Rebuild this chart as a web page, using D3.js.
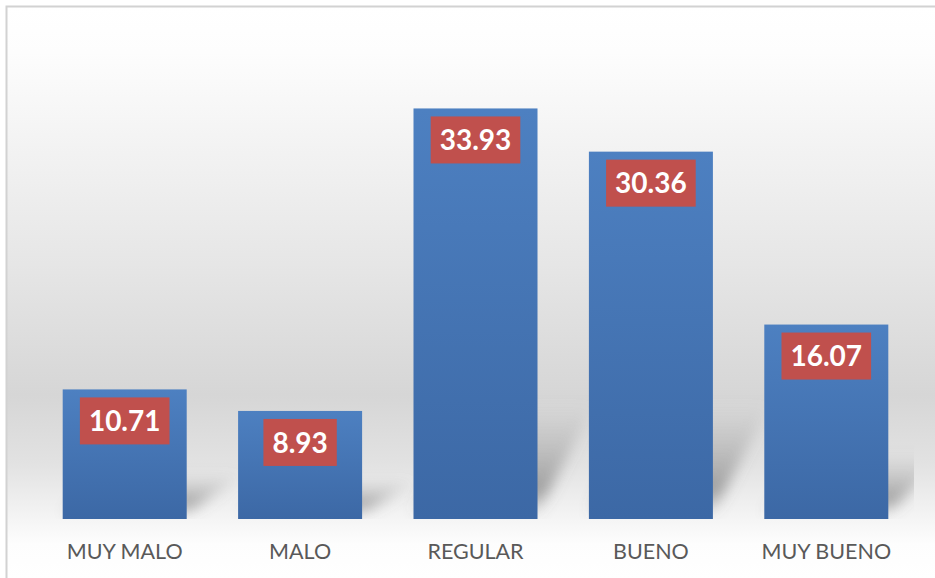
<!DOCTYPE html>
<html>
<head>
<meta charset="utf-8">
<script src="https://cdn.jsdelivr.net/npm/d3@7"></script>
<style>
  body { margin: 0; background: #fff; }
  svg { display: block; }
</style>
</head>
<body>
<div id="chart"></div>
<script>
// Data
var categories = ["MUY MALO", "MALO", "REGULAR", "BUENO", "MUY BUENO"];
var values = [10.71, 8.93, 33.93, 30.36, 16.07];
var valueLabels = ["10.71", "8.93", "33.93", "30.36", "16.07"];

var width = 935, height = 578;
var base = 519;

var svg = d3.select("#chart").append("svg")
    .attr("width", width)
    .attr("height", height);

var defs = svg.append("defs");

// background gradient (white -> grey -> white)
var bg = defs.append("linearGradient")
    .attr("id", "bg").attr("x1", 0).attr("y1", 0).attr("x2", 0).attr("y2", 1);
[[0, "#ffffff"], [0.08, "#fdfdfd"], [0.45, "#e6e6e6"], [0.68, "#d6d6d6"], [0.8, "#e2e2e2"], [0.94, "#fdfdfd"], [1, "#ffffff"]]
  .forEach(function (s) { bg.append("stop").attr("offset", s[0]).attr("stop-color", s[1]); });

// bar gradient
var bar = defs.append("linearGradient")
    .attr("id", "bar").attr("x1", 0).attr("y1", 0).attr("x2", 0).attr("y2", 1);
bar.append("stop").attr("offset", 0).attr("stop-color", "#4d80c1");
bar.append("stop").attr("offset", 1).attr("stop-color", "#3c68a5");

// shadow gradient
var sg = defs.append("linearGradient")
    .attr("id", "shade").attr("x1", 0).attr("y1", 1).attr("x2", 0).attr("y2", 0);
sg.append("stop").attr("offset", 0).attr("stop-color", "#6a6a6a").attr("stop-opacity", 0.1);
sg.append("stop").attr("offset", 0.2).attr("stop-color", "#6a6a6a").attr("stop-opacity", 0.6);
sg.append("stop").attr("offset", 1).attr("stop-color", "#8a8a8a").attr("stop-opacity", 0.0);

defs.append("filter").attr("id", "blur")
    .attr("x", "-50%").attr("y", "-50%").attr("width", "200%").attr("height", "200%")
  .append("feGaussianBlur").attr("stdDeviation", 7);

// scales
var x = d3.scaleBand()
    .domain(categories)
    .range([37, 914])
    .paddingInner(0.293)
    .paddingOuter(0.1465);

var y = d3.scaleLinear()
    .domain([0, 40])
    .range([base, 35]);

defs.append("clipPath").attr("id", "plot")
  .append("rect")
    .attr("x", 37).attr("y", 30)
    .attr("width", 914 - 37).attr("height", base - 30);

// background + border
svg.append("rect")
    .attr("x", 7).attr("y", 7)
    .attr("width", width - 7).attr("height", height - 7)
    .attr("fill", "url(#bg)");
svg.append("path")
    .attr("d", "M6.5," + height + "V6.5H" + width)
    .attr("fill", "none")
    .attr("stroke", "#d2d2d2")
    .attr("stroke-width", 2);

// shadows
svg.append("g")
    .attr("clip-path", "url(#plot)")
  .selectAll("polygon")
  .data(values)
  .enter().append("polygon")
    .attr("points", function (d, i) {
        var x0 = x(categories[i]), x1 = x0 + x.bandwidth();
        var h = base - y(d);
        var sh = Math.min(h * 0.3, 110), dx = 58;
        var b = base - 6;
        return [[x0, b], [x1, b], [x1 + dx, b - sh], [x0 + dx, b - sh]].join(" ");
    })
    .attr("fill", "url(#shade)")
    .attr("filter", "url(#blur)");

// bars
svg.append("g")
  .selectAll("rect")
  .data(values)
  .enter().append("rect")
    .attr("x", function (d, i) { return x(categories[i]); })
    .attr("y", function (d) { return y(d); })
    .attr("width", x.bandwidth())
    .attr("height", function (d) { return base - y(d); })
    .attr("fill", "url(#bar)");

// value labels
var lab = svg.append("g")
  .selectAll("g")
  .data(values)
  .enter().append("g")
    .attr("transform", function (d, i) {
        return "translate(" + (x(categories[i]) + x.bandwidth() / 2) + "," + (y(d) + 31.5) + ")";
    });

var txt = lab.append("text")
    .attr("text-anchor", "middle")
    .attr("dy", "0.36em")
    .attr("font-family", "Lato, 'Open Sans', sans-serif")
    .attr("font-weight", "bold")
    .attr("font-size", 28)
    .attr("fill", "#ffffff")
    .text(function (d, i) { return valueLabels[i]; });

txt.each(function () {
    var w = this.getComputedTextLength();
    d3.select(this.parentNode).insert("rect", "text")
        .attr("x", -w / 2 - 9)
        .attr("y", -23.5)
        .attr("width", w + 18)
        .attr("height", 47)
        .attr("fill", "#c0504d");
});

// category axis
var axis = svg.append("g")
    .attr("transform", "translate(0," + base + ")")
    .call(d3.axisBottom(x).tickSize(0).tickPadding(0));
axis.select(".domain").remove();
axis.selectAll("text")
    .attr("y", 40)
    .attr("dy", 0)
    .attr("font-family", "Lato, 'Open Sans', sans-serif")
    .attr("font-size", 21.5)
    .attr("fill", "#595959");
</script>
</body>
</html>
